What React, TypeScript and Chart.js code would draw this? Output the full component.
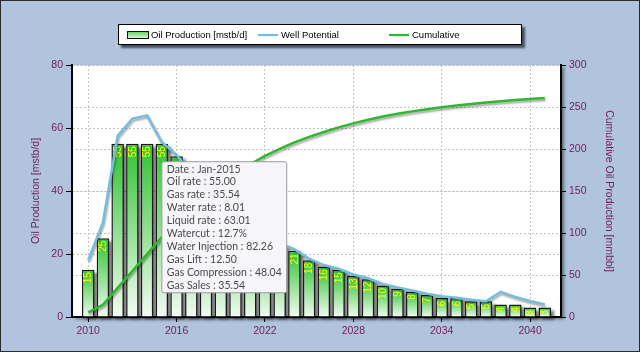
import { useEffect, useRef } from 'react';
import { Chart, registerables, Tooltip } from 'chart.js';

Chart.register(...registerables);

// ---------- data ----------
const years = [2010, 2011, 2012, 2013, 2014, 2015, 2016, 2017, 2018, 2019, 2020, 2021, 2022, 2023, 2024, 2025,
  2026, 2027, 2028, 2029, 2030, 2031, 2032, 2033, 2034, 2035, 2036, 2037, 2038, 2039, 2040, 2041];
const oilProduction = [15, 25, 55, 55, 55, 55, 51, 45, 40, 36, 32, 29, 26, 23, 21, 18,
  16, 15, 13, 12, 10, 9, 8, 7, 6, 6, 5, 5, 4, 4, 3, 3];
const wellPotential = [18, 30, 57.5, 63, 64, 55.5, 51.5, 45.5, 40.5, 36.5, 32.5, 29.5, 26.5, 23.5, 21.5, 18.5,
  16.5, 15.3, 13.5, 12.3, 10.5, 9.4, 8.4, 7.4, 6.6, 6.1, 5.5, 5.0, 8.0, 6.4, 5.1, 4.0];
const cumulative = [5.5, 14.6, 34.7, 54.8, 74.9, 95.0, 113.6, 130.4, 145.4, 158.9, 171.0, 181.9, 191.8, 200.2, 207.9, 214.5,
  220.3, 225.8, 230.5, 234.9, 238.6, 241.9, 244.8, 247.4, 249.6, 251.8, 253.6, 255.4, 256.9, 258.4, 259.5, 260.6];

const tipYear = 2015;
const tipLabels = ['Date', 'Oil rate', 'Gas rate', 'Water rate', 'Liquid rate', 'Watercut',
  'Water Injection', 'Gas Lift', 'Gas Compression', 'Gas Sales'];
const tipValues = ['Jan-2015', '55.00', '35.54', '8.01', '63.01', '12.7%', '82.26', '12.50', '48.04', '35.54'];

const seriesLabels = ['Oil Production [mstb/d]', 'Well Potential', 'Cumulative'];
const leftTitle = 'Oil Production [mstb/d]';
const rightTitle = 'Cumulative Oil Production [mmbbl]';

// ---------- styles ----------
const FONT = "'Liberation Sans', Arial, sans-serif";
const AXIS_COLOR = '#77205e';
const GRID_COLOR = '#c4c4c4';
const BLUE = '#74bde0';
const GREEN = '#2eb82e';

(Tooltip.positioners as any).belowBar = function (items: any[]) {
  if (!items.length) return false;
  const el = items[0].element;
  return { x: el.x + 2, y: el.y + 18 };
};

const backgroundPlugin = {
  id: 'bgPlugin',
  beforeDraw(chart: any) {
    const { ctx, width, height, chartArea: a } = chart;
    ctx.save();
    ctx.fillStyle = '#b0c4de';
    ctx.fillRect(0, 0, width, height);
    ctx.shadowColor = 'rgba(0,0,0,0.45)';
    ctx.shadowOffsetX = 3;
    ctx.shadowOffsetY = 2;
    ctx.shadowBlur = 3;
    ctx.fillStyle = '#ffffff';
    ctx.fillRect(a.left, a.top, a.right - a.left, a.bottom - a.top);
    ctx.restore();
  },
  afterDraw(chart: any) {
    const { ctx, width, height } = chart;
    ctx.save();
    ctx.strokeStyle = '#2a2a2a';
    ctx.lineWidth = 1;
    ctx.strokeRect(0.5, 0.5, width - 1, height - 1);
    ctx.restore();
  },
};

const barDecorPlugin = {
  id: 'barDecor',
  beforeDatasetsDraw(chart: any) {
    const meta = chart.getDatasetMeta(0);
    const { ctx } = chart;
    ctx.save();
    ctx.fillStyle = 'rgba(0,0,0,0.55)';
    ctx.filter = 'blur(1.5px)';
    meta.data.forEach((el: any) => {
      const { x, y, base, width } = el.getProps(['x', 'y', 'base', 'width'], true);
      ctx.fillRect(x - width / 2 + 3, y + 3, width, base - y);
    });
    ctx.restore();
  },
  afterDatasetDraw(chart: any, args: any) {
    if (args.index !== 0) return;
    const { ctx } = chart;
    const meta = chart.getDatasetMeta(0);
    meta.data.forEach((el: any, i: number) => {
      const { x, y } = el.getProps(['x', 'y'], true);
      ctx.save();
      ctx.translate(x, y + 2.5);
      ctx.rotate(-Math.PI / 2);
      ctx.textAlign = 'right';
      ctx.textBaseline = 'middle';
      ctx.fillStyle = '#ffff00';
      ctx.font = `10px ${FONT}`;
      ctx.fillText(String(oilProduction[i]), 0, 0.5);
      ctx.restore();
    });
  },
};

const lineShadowPlugin = {
  id: 'lineShadow',
  beforeDatasetDraw(chart: any, args: any) {
    if (args.meta.type !== 'line') return;
    const { ctx } = chart;
    ctx.save();
    ctx.shadowColor = 'rgba(0,0,0,0.35)';
    ctx.shadowOffsetX = 1;
    ctx.shadowOffsetY = 2;
    ctx.shadowBlur = 2;
  },
  afterDatasetDraw(chart: any, args: any) {
    if (args.meta.type !== 'line') return;
    chart.ctx.restore();
  },
};

const legendPlugin = {
  id: 'boxLegend',
  afterDraw(chart: any) {
    const { ctx, width } = chart;
    const boxW = 404;
    const boxH = 21;
    const top = 24;
    const left = Math.round((width - boxW) / 2);
    ctx.save();
    ctx.fillStyle = 'rgba(0,0,0,0.6)';
    ctx.filter = 'blur(1px)';
    ctx.fillRect(left + 3, top + 3, boxW, boxH);
    ctx.filter = 'none';
    ctx.fillStyle = '#ffffff';
    ctx.fillRect(left, top, boxW, boxH);
    ctx.strokeStyle = '#000';
    ctx.lineWidth = 1;
    ctx.strokeRect(left + 0.5, top + 0.5, boxW - 1, boxH - 1);
    const cy = top + boxH / 2 + 0.5;
    ctx.font = `9.5px ${FONT}`;
    ctx.textBaseline = 'middle';
    ctx.textAlign = 'left';
    chart.data.datasets.forEach((ds: any, i: number) => {
      const x0 = left + 9 + i * 131;
      if (ds.type === 'line') {
        ctx.strokeStyle = ds.borderColor;
        ctx.lineWidth = 2.2;
        ctx.beginPath();
        ctx.moveTo(x0, cy);
        ctx.lineTo(x0 + 20, cy);
        ctx.stroke();
        ctx.fillStyle = '#000';
        ctx.fillText(ds.label, x0 + 23, cy);
      } else {
        const g = ctx.createLinearGradient(0, cy - 3.5, 0, cy + 3.5);
        g.addColorStop(0, '#5fd35f');
        g.addColorStop(1, '#e0f8e0');
        ctx.fillStyle = g;
        ctx.fillRect(x0, cy - 3.5, 22, 7);
        ctx.strokeStyle = '#111';
        ctx.lineWidth = 1;
        ctx.strokeRect(x0 + 0.5, cy - 3.5, 21, 7);
        ctx.fillStyle = '#000';
        ctx.fillText(ds.label, x0 + 24, cy);
      }
    });
    ctx.restore();
  },
};

export default function App() {
  const ref = useRef<HTMLCanvasElement>(null);

  useEffect(() => {
    if (!ref.current) return;
    const axisFont = { family: FONT, size: 10.5 };
    const chart = new Chart(ref.current, {
      type: 'bar',
      data: {
        labels: years,
        datasets: [
          {
            type: 'bar',
            label: seriesLabels[0],
            data: oilProduction,
            yAxisID: 'y',
            order: 3,
            borderColor: '#1a1a1a',
            borderWidth: 1.5,
            barPercentage: 0.85,
            categoryPercentage: 1,
            backgroundColor: (c: any) => {
              const ch = c.chart;
              if (c.type !== 'data' || !ch.chartArea || !ch.scales.y) return '#33cc33';
              const ys = ch.scales.y;
              const top = ys.getPixelForValue(c.raw);
              const base = ys.getPixelForValue(0);
              if (!isFinite(top) || !isFinite(base) || top === base) return '#33cc33';
              const g = ch.ctx.createLinearGradient(0, top, 0, base);
              g.addColorStop(0, '#2ec42e');
              g.addColorStop(1, '#f2fbf2');
              return g;
            },
          } as any,
          {
            type: 'line',
            label: seriesLabels[1],
            data: wellPotential,
            yAxisID: 'y',
            order: 2,
            borderColor: BLUE,
            borderWidth: 2.5,
            pointRadius: 0,
            tension: 0,
          } as any,
          {
            type: 'line',
            label: seriesLabels[2],
            data: cumulative,
            yAxisID: 'y1',
            order: 1,
            borderColor: GREEN,
            borderWidth: 2.5,
            pointRadius: 0,
            tension: 0,
          } as any,
        ],
      },
      options: {
        responsive: false,
        animation: false,
        devicePixelRatio: 1,
        events: [],
        layout: { padding: { top: 65, left: 0, right: 0, bottom: 0 } },
        plugins: {
          legend: { display: false },
          tooltip: {
            enabled: true,
            position: 'belowBar' as any,
            xAlign: 'left',
            yAlign: 'top',
            caretSize: 0,
            caretPadding: 0,
            cornerRadius: 2,
            backgroundColor: '#f6f6fa',
            borderColor: '#9a9a9a',
            borderWidth: 1,
            bodyColor: '#4a4a4a',
            bodyFont: { family: 'Lato, sans-serif', size: 10.5, lineHeight: '12.9px' } as any,
            bodySpacing: 0,
            padding: { top: 1, bottom: 1, left: 5, right: 5 },
            displayColors: false,
            callbacks: {
              title: () => [],
              label: () => tipLabels.map((l, i) => `${l} : ${tipValues[i]}`),
            },
          },
        },
        scales: {
          x: {
            type: 'linear',
            min: 2008.9,
            max: 2042.1,
            offset: false,
            grid: { color: GRID_COLOR, offset: false, tickLength: 5, tickColor: '#000', tickWidth: 1 },
            border: { display: true, color: '#000', width: 2, dash: [2, 2] },
            ticks: {
              stepSize: 6,
              includeBounds: false,
              color: AXIS_COLOR,
              font: axisFont,
              padding: 3,
              maxRotation: 0,
              autoSkip: false,
              callback: (v: any) => String(v),
            } as any,
            afterFit: (s: any) => { s.height = 35; },
          },
          y: {
            position: 'left',
            min: 0,
            max: 80,
            grid: { color: GRID_COLOR, tickLength: 6, tickColor: '#000', tickWidth: 1 },
            border: { display: true, color: '#000', width: 2, dash: [2, 2] },
            ticks: { stepSize: 20, color: AXIS_COLOR, font: axisFont, padding: 3 },
            title: { display: true, text: leftTitle, color: AXIS_COLOR, font: axisFont, padding: { top: 30, bottom: 0 } },
            afterFit: (s: any) => { s.width = 72; },
          },
          y1: {
            position: 'right',
            min: 0,
            max: 300,
            grid: { color: GRID_COLOR, tickLength: 5, tickColor: '#000', tickWidth: 1, drawOnChartArea: true },
            border: { display: true, color: '#000', width: 2, dash: [2, 2] },
            ticks: { stepSize: 50, color: AXIS_COLOR, font: axisFont, padding: 3 },
            title: { display: true, text: rightTitle, color: AXIS_COLOR, font: axisFont, padding: { top: 24.7, bottom: 0 } },
            afterFit: (s: any) => { s.width = 79; },
          },
        },
      } as any,
      plugins: [backgroundPlugin, barDecorPlugin, lineShadowPlugin, legendPlugin],
    });

    const idx = years.indexOf(tipYear);
    const el: any = chart.getDatasetMeta(0).data[idx];
    chart.tooltip?.setActiveElements([{ datasetIndex: 0, index: idx }], { x: el.x, y: el.y });
    chart.update();

    return () => chart.destroy();
  }, []);

  return (
    <div style={{ position: 'fixed', left: 0, top: 0, width: 640, height: 352 }}>
      <canvas ref={ref} width={640} height={352} style={{ display: 'block' }} />
    </div>
  );
}
